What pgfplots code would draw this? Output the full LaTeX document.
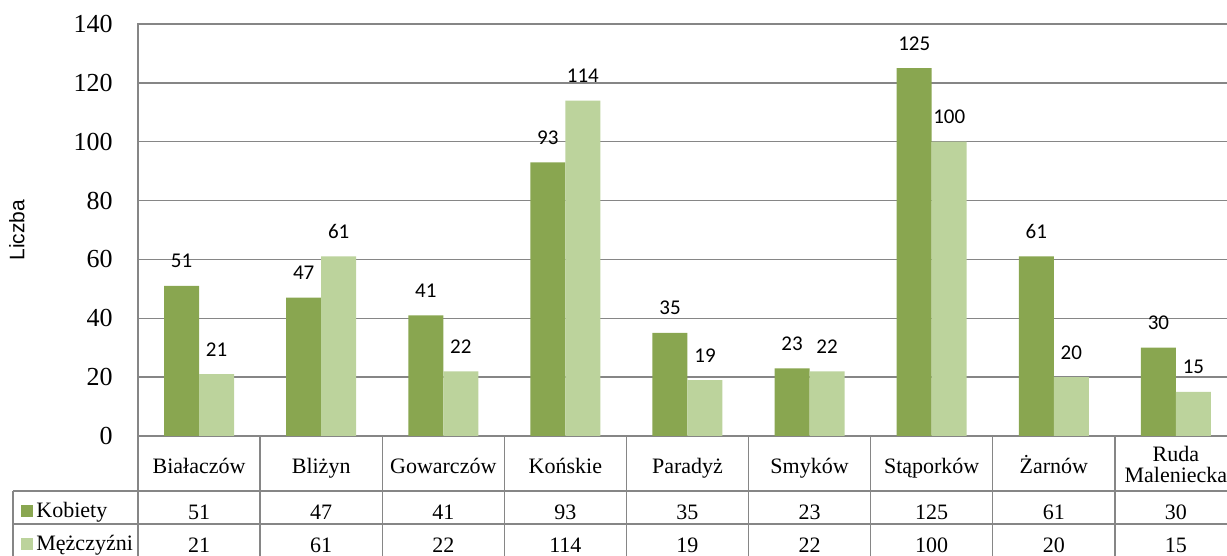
\documentclass[border=0pt]{standalone}
\usepackage{pgfplots}
\pgfplotsset{compat=1.18}
\usepackage{pgfplotstable}
\usepackage{fontspec}
\setmainfont{Liberation Serif}
\newfontfamily\lblfont{Carlito}
\newfontfamily\arialfont{Liberation Sans}
\definecolor{dk}{RGB}{137,166,80}
\definecolor{lt}{RGB}{188,211,156}
\definecolor{gr}{RGB}{134,134,134}

\pgfplotstableread{
x K M
0 51 21
1 47 61
2 41 22
3 93 114
4 35 19
5 23 22
6 125 100
7 61 20
8 30 15
}\data

\begin{document}
\begin{tikzpicture}[x=0.5pt,y=0.5pt]
\begin{scope}
\clip (0,0) rectangle (1227,556);
\begin{axis}[
  at={(69pt,60pt)}, anchor=south west, scale only axis,
  width=549.5pt, height=206pt,
  xmin=-0.5, xmax=8.5, ymin=0, ymax=140,
  ytick={0,20,...,140}, xtick={0,...,8},
  xticklabels={Białaczów, Bliżyn, Gowarczów, Końskie, Paradyż, Smyków, Stąporków, Żarnów, {\raisebox{6pt}{\begin{tabular}[t]{@{}c@{}}Ruda\\[-1pt]Maleniecka\end{tabular}}}},
  xticklabel style={font=\fontsize{11}{11.5}\selectfont, anchor=base, inner sep=0pt, yshift=-19pt},
  yticklabel style={font=\fontsize{13}{14}\selectfont, anchor=east, inner sep=0pt, xshift=-12.5pt},
  /pgf/number format/assume math mode=true,
  major tick length=0pt, tick style={draw=none},
  axis line style={draw=gr, line width=0.7pt},
  ymajorgrids, grid style={draw=gr, line width=0.7pt},
  ylabel={Liczba},
  ylabel style={font=\arialfont\fontsize{10.5}{12}\selectfont, at={(axis description cs:-0.1101,0.5)}, anchor=center},
  clip=false,
]
\addplot[ybar, bar width=17.5pt, bar shift=-8.75pt, fill=dk, draw=none,
  nodes near coords,
  nodes near coords style={font=\lblfont\fontsize{10.5}{12}\selectfont, anchor=south, inner sep=0pt, yshift=8.75pt, xshift=-8.75pt, text=black}]
  table[x=x,y=K]{\data};
\addplot[ybar, bar width=17.5pt, bar shift=8.75pt, fill=lt, draw=none,
  nodes near coords,
  nodes near coords style={font=\lblfont\fontsize{10.5}{12}\selectfont, anchor=south, inner sep=0pt, yshift=8.75pt, xshift=8.75pt, text=black}]
  table[x=x,y=M]{\data};
\addplot[draw=none, mark=none, nodes near coords, point meta=explicit,
  nodes near coords style={font=\fontsize{11}{12}\selectfont, anchor=center, inner sep=0pt, yshift=-38pt, text=black}]
  table[x=x, y expr=0, meta=K]{\data};
\addplot[draw=none, mark=none, nodes near coords, point meta=explicit,
  nodes near coords style={font=\fontsize{11}{12}\selectfont, anchor=center, inner sep=0pt, yshift=-54.5pt, text=black}]
  table[x=x, y expr=0, meta=M]{\data};
\end{axis}
\draw[gr, line width=0.7pt] (13,65) -- (1237,65);
\draw[gr, line width=0.7pt] (13,32) -- (1237,32);
\draw[gr, line width=0.7pt] (13,0) -- (13,65);
\foreach \k in {0,...,9} {\draw[gr, line width=0.7pt] ({138+122.11*\k},0) -- ({138+122.11*\k},120);}
\fill[dk] (21,39) rectangle (33,51);
\fill[lt] (21,6) rectangle (33,18);
\node[anchor=base west, inner sep=0pt, font=\fontsize{11}{12}\selectfont] at (36,38) {Kobiety};
\node[anchor=base west, inner sep=0pt, font=\fontsize{11}{12}\selectfont] at (36,5) {Mężczyźni};
\end{scope}
\pgfresetboundingbox
\path[use as bounding box] (0,0) rectangle (1227,556);
\end{tikzpicture}
\end{document}
